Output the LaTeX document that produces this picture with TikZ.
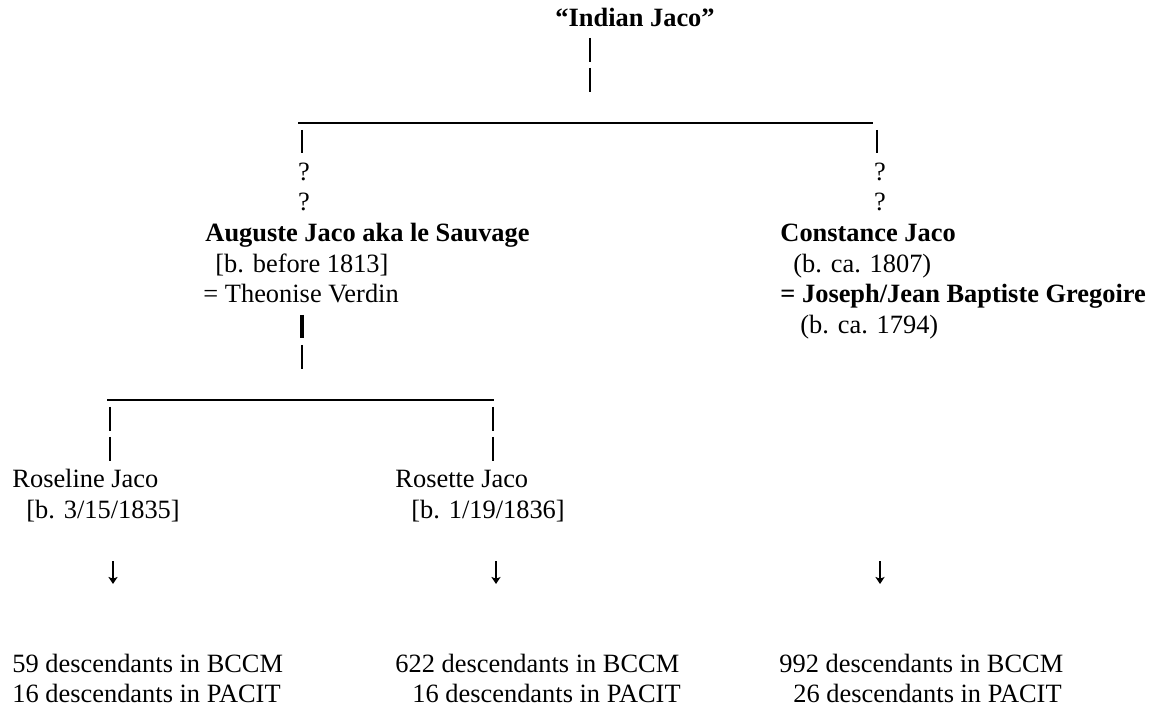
\documentclass[tikz,border=0pt]{standalone}
\usepackage{fontspec}
\setmainfont{Liberation Serif}
\usetikzlibrary{positioning,arrows.meta}
\tikzset{every node/.style={anchor=base west, inner sep=0pt,
    font=\fontsize{12}{14}\selectfont}}
\tikzset{rule/.style={line width=.6pt}}
\tikzset{bar/.style={line width=.8pt, dash pattern=on 10.9pt off 2.7pt}}
\tikzset{boldbar/.style={line width=1.4pt}}
\tikzset{down/.style={line width=.7pt, -{Stealth[length=3.2pt,width=4.2pt,inset=.8pt]}}}

\begin{document}
\begin{tikzpicture}[x=0.4545pt, y=-0.4545pt]
    \tikzstyle{glyph}=[anchor=base]
    \useasboundingbox (0,0) rectangle (1154,708);
    \node (jaco) at (555,27) {\textbf{“Indian Jaco”}};
    \coordinate (j1) at (590,38);
    \coordinate (j2) at (590,93);
    \coordinate (l1) at (298,123);
    \coordinate (l2) at (873,123);
    \coordinate (a1) at (302,130);
    \coordinate (a2) at (302,153);
    \coordinate (c1) at (877,130);
    \coordinate (c2) at (877,153);
    \node[glyph] (aq1) at (304,180.5) {?};
    \node[glyph] (aq2) at (304,211) {?};
    \node[glyph] (cq1) at (880,180.5) {?};
    \node[glyph] (cq2) at (880,211) {?};
    \node (aug) at (205,242) {\textbf{Auguste Jaco aka le Sauvage}};
    \node (augb) at (215,272.6) {[b. before 1813]};
    \node (augw) at (203,303) {= Theonise Verdin};
    \node (con) at (780,242) {\textbf{Constance Jaco}};
    \node (conb) at (793,272.6) {(b. ca. 1807)};
    \node (conh) at (780,303) {\textbf{= Joseph/Jean Baptiste Gregoire}};
    \node (conhb) at (800,334) {(b. ca. 1794)};
    \coordinate (v1) at (302,315);
    \coordinate (v2) at (302,338);
    \coordinate (v3) at (302,345);
    \coordinate (v4) at (302,369);
    \coordinate (k1) at (107,400);
    \coordinate (k2) at (494,400);
    \coordinate (r1) at (110,407);
    \coordinate (r2) at (110,461);
    \coordinate (s1) at (493,407);
    \coordinate (s2) at (493,461);
    \node (rose) at (12,487.5) {Roseline Jaco};
    \node (roseb) at (26,518) {[b. 3/15/1835]};
    \node (rost) at (395,487.5) {Rosette Jaco};
    \node (rostb) at (411,518) {[b. 1/19/1836]};
    \coordinate (rosed1) at (113,561);
    \coordinate (rosed2) at (113,584);
    \coordinate (rostd1) at (496,561);
    \coordinate (rostd2) at (496,584);
    \coordinate (cond1) at (880,561);
    \coordinate (cond2) at (880,584);
    \node (rosen1) at (12,672) {59 descendants in BCCM};
    \node (rosen2) at (12,702) {16 descendants in PACIT};
    \node (rostn1) at (395,672) {622 descendants in BCCM};
    \node (rostn2) at (412,702) {16 descendants in PACIT};
    \node (conn1) at (779,672) {992 descendants in BCCM};
    \node (conn2) at (793,702) {26 descendants in PACIT};
    \draw[bar] (j1) -- (j2);
    \draw[rule] (l1) -- (l2);
    \draw[bar] (a1) -- (a2);
    \draw[bar] (c1) -- (c2);
    \draw[boldbar] (v1) -- (v2);
    \draw[bar] (v3) -- (v4);
    \draw[rule] (k1) -- (k2);
    \draw[bar] (r1) -- (r2);
    \draw[bar] (s1) -- (s2);
    \draw[down] (rosed1) -- (rosed2);
    \draw[down] (rostd1) -- (rostd2);
    \draw[down] (cond1) -- (cond2);
\end{tikzpicture}
\end{document}
